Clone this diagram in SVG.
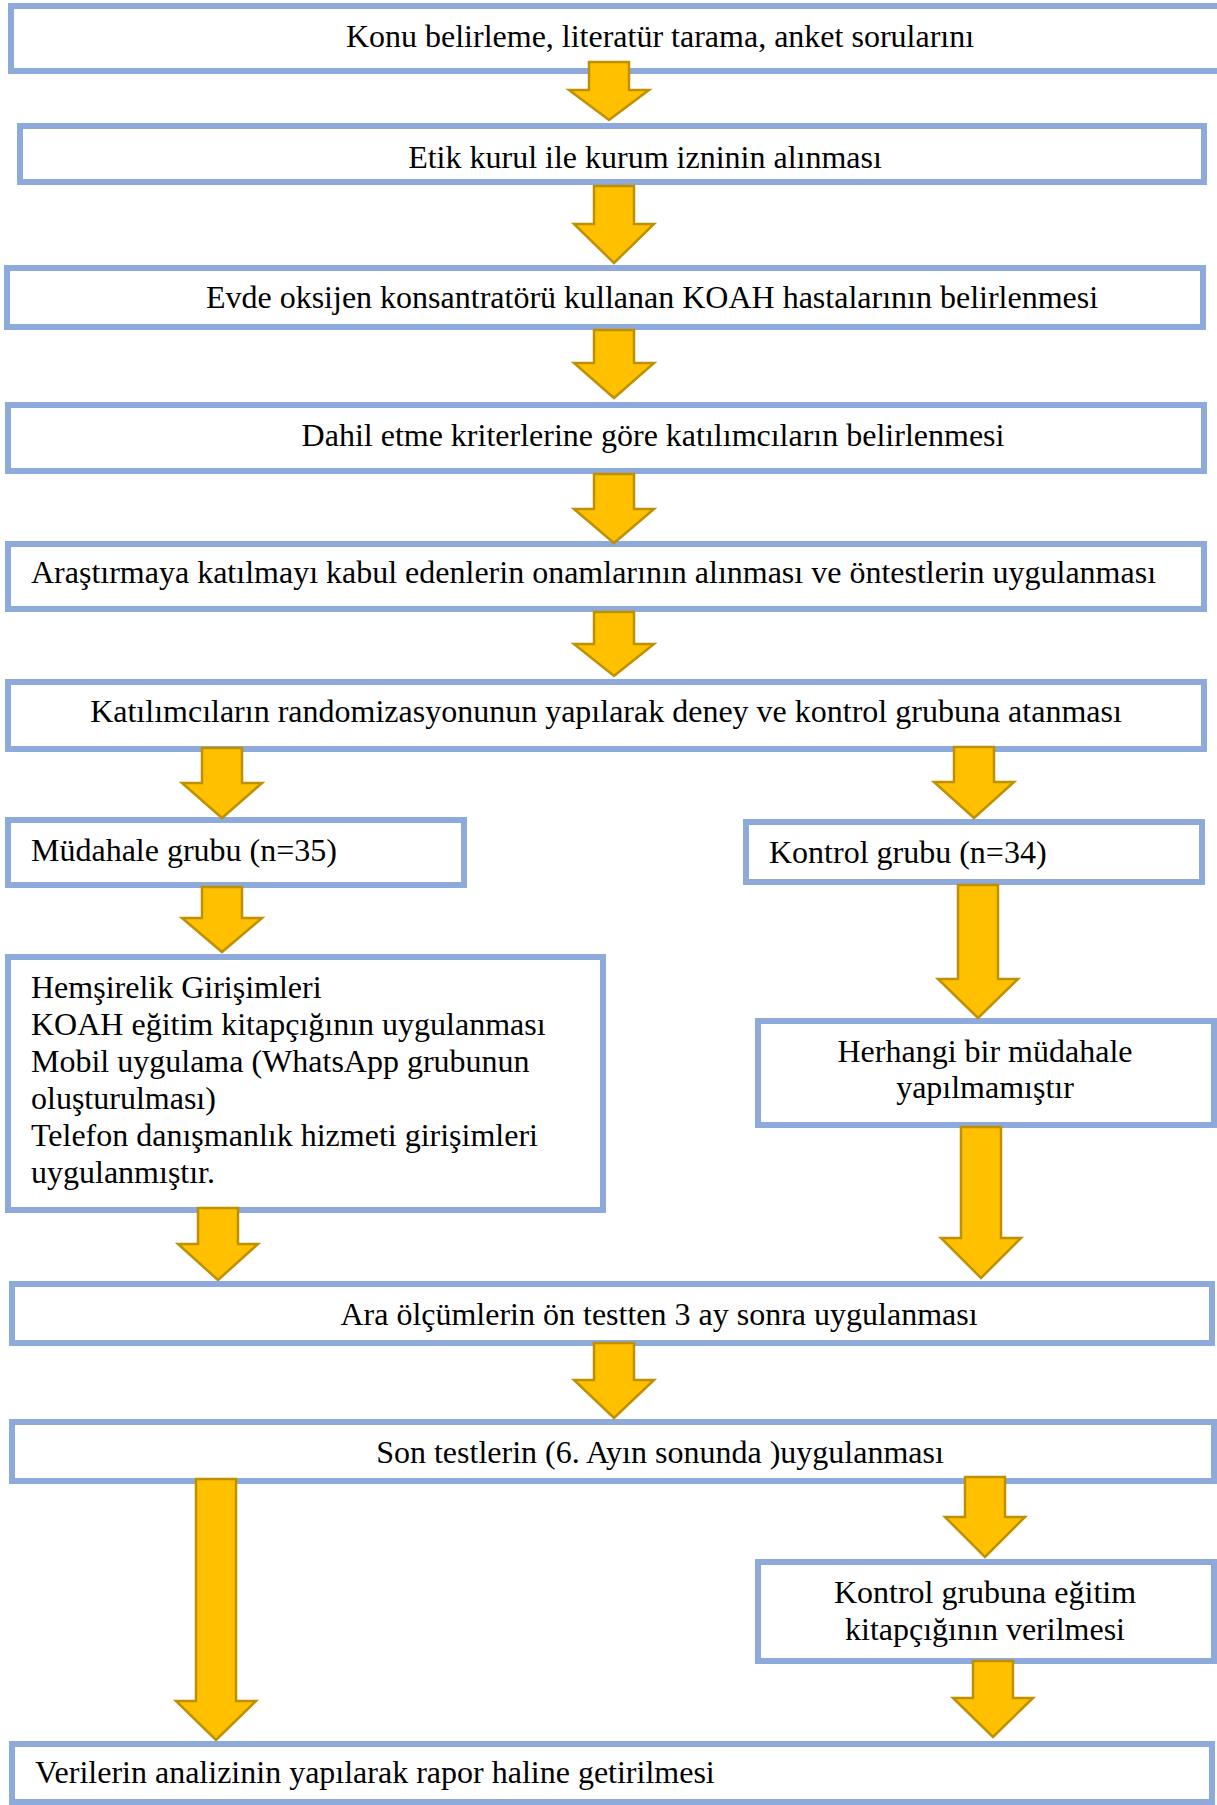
<svg xmlns="http://www.w3.org/2000/svg" width="1217" height="1805" viewBox="0 0 1217 1805">
  <style>
    .box { fill: #FFFFFF; stroke: #8EAADB; stroke-width: 6; }
    .arrow { fill: #FFC000; stroke: #BF9000; stroke-width: 2.5; stroke-linejoin: miter; }
    .t { font-family: "Liberation Serif", "Times New Roman", serif; font-size: 32px; fill: #000000; }
    .c { text-anchor: middle; }
  </style>
  <rect width="1217" height="1805" fill="#FFFFFF"/>

  <!-- process boxes -->
  <g id="n1"><rect class="box" x="11" y="6" width="1210" height="65"/><text class="t c" x="660" y="47">Konu belirleme, literatür tarama, anket sorularını</text></g>
  <g id="n2"><rect class="box" x="20" y="126" width="1184" height="56"/><text class="t c" x="645" y="168">Etik kurul ile kurum izninin alınması</text></g>
  <g id="n3"><rect class="box" x="7" y="268" width="1196" height="59"/><text class="t c" x="652" y="308">Evde oksijen konsantratörü kullanan KOAH hastalarının belirlenmesi</text></g>
  <g id="n4"><rect class="box" x="8" y="405" width="1196" height="66"/><text class="t c" x="653" y="446">Dahil etme kriterlerine göre katılımcıların belirlenmesi</text></g>
  <g id="n5"><rect class="box" x="8" y="544" width="1196" height="65"/><text class="t" x="31" y="583">Araştırmaya katılmayı kabul edenlerin onamlarının alınması ve öntestlerin uygulanması</text></g>
  <g id="n6"><rect class="box" x="8" y="682" width="1196" height="67"/><text class="t c" x="606" y="722">Katılımcıların randomizasyonunun yapılarak deney ve kontrol grubuna atanması</text></g>
  <g id="n7"><rect class="box" x="8" y="820" width="456" height="65"/><text class="t" x="31" y="861">Müdahale grubu (n=35)</text></g>
  <g id="n8"><rect class="box" x="746" y="822" width="456" height="60"/><text class="t" x="769" y="863">Kontrol grubu (n=34)</text></g>
  <g id="n9"><rect class="box" x="8" y="957" width="595" height="253"/>
    <text class="t" x="31" y="998">Hemşirelik Girişimleri</text>
    <text class="t" x="31" y="1035">KOAH eğitim kitapçığının uygulanması</text>
    <text class="t" x="31" y="1072">Mobil uygulama (WhatsApp grubunun</text>
    <text class="t" x="31" y="1109">oluşturulması)</text>
    <text class="t" x="31" y="1146">Telefon danışmanlık hizmeti girişimleri</text>
    <text class="t" x="31" y="1183">uygulanmıştır.</text>
  </g>
  <g id="n10"><rect class="box" x="758" y="1021" width="456" height="104"/>
    <text class="t c" x="985" y="1062">Herhangi bir müdahale</text>
    <text class="t c" x="985" y="1098">yapılmamıştır</text>
  </g>
  <g id="n11"><rect class="box" x="12" y="1284" width="1200" height="59"/><text class="t c" x="659" y="1325">Ara ölçümlerin ön testten 3 ay sonra uygulanması</text></g>
  <g id="n12"><rect class="box" x="12" y="1422" width="1202" height="59"/><text class="t c" x="660" y="1463">Son testlerin (6. Ayın sonunda )uygulanması</text></g>
  <g id="n13"><rect class="box" x="758" y="1562" width="456" height="99"/>
    <text class="t c" x="985" y="1603">Kontrol grubuna eğitim</text>
    <text class="t c" x="985" y="1640">kitapçığının verilmesi</text>
  </g>
  <g id="n14"><rect class="box" x="12" y="1744" width="1200" height="58"/><text class="t" x="35" y="1783">Verilerin analizinin yapılarak rapor haline getirilmesi</text></g>

  <!-- block arrows: shaft 40 wide, head 80 wide -->
  <g id="connectors">
    <path class="arrow" d="M589,62 H629 V90 H649 L609,120 L569,90 H589 Z"/>
    <path class="arrow" d="M594,186 H634 V224 H654 L614,263 L574,224 H594 Z"/>
    <path class="arrow" d="M594,330 H634 V363 H654 L614,398 L574,363 H594 Z"/>
    <path class="arrow" d="M594,474 H634 V509 H654 L614,543 L574,509 H594 Z"/>
    <path class="arrow" d="M594,612 H634 V644 H654 L614,676 L574,644 H594 Z"/>
    <path class="arrow" d="M202,748 H242 V783 H262 L222,818 L182,783 H202 Z"/>
    <path class="arrow" d="M954,747 H994 V782 H1014 L974,818 L934,782 H954 Z"/>
    <path class="arrow" d="M202,887 H242 V918 H262 L222,952 L182,918 H202 Z"/>
    <path class="arrow" d="M958,885 H998 V979 H1018 L978,1018 L938,979 H958 Z"/>
    <path class="arrow" d="M198,1208 H238 V1244 H258 L218,1280 L178,1244 H198 Z"/>
    <path class="arrow" d="M961,1127 H1001 V1238 H1021 L981,1278 L941,1238 H961 Z"/>
    <path class="arrow" d="M594,1343 H634 V1380 H654 L614,1418 L574,1380 H594 Z"/>
    <path class="arrow" d="M196,1479 H236 V1701 H256 L216,1740 L176,1701 H196 Z"/>
    <path class="arrow" d="M965,1477 H1005 V1517 H1025 L985,1557 L945,1517 H965 Z"/>
    <path class="arrow" d="M973,1661 H1013 V1698 H1033 L993,1737 L953,1698 H973 Z"/>
  </g>
</svg>
